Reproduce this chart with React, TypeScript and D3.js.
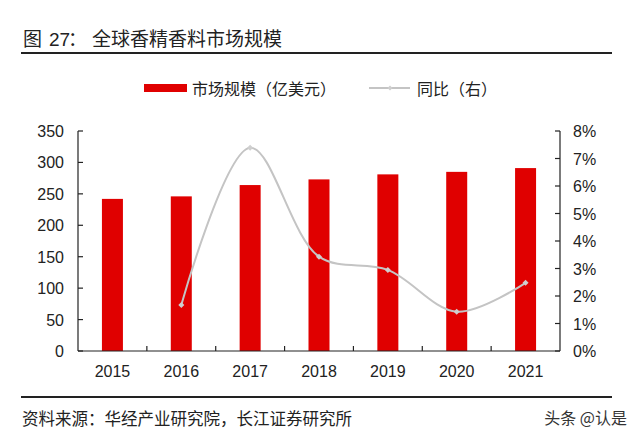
import React from "react";
import * as d3 from "d3";

const years = ["2015", "2016", "2017", "2018", "2019", "2020", "2021"];
const marketSize = [242, 246, 264, 273, 281, 285, 291];
const yoyYears = ["2016", "2017", "2018", "2019", "2020", "2021"];
const yoy = [0.0167, 0.0739, 0.0343, 0.0295, 0.0143, 0.0248];
const leftTicks = [0, 50, 100, 150, 200, 250, 300, 350];
const rightTicks = [0, 0.01, 0.02, 0.03, 0.04, 0.05, 0.06, 0.07, 0.08];

const FONT = "'Liberation Sans', Arial, 'Noto Sans CJK SC', sans-serif";
const CJK = "'Noto Sans CJK SC', 'Liberation Sans', sans-serif";

export default function App() {
  const W = 640, H = 438;
  const left = 78, right = 560, top = 131, bottom = 351;
  const x = d3.scaleBand().domain(years).range([left, right]).paddingInner(0).paddingOuter(0);
  const yL = d3.scaleLinear().domain([0, 350]).range([bottom, top]);
  const yR = d3.scaleLinear().domain([0, 0.08]).range([bottom, top]);
  const barW = 21;
  const cx = (c: string) => (x(c) as number) + x.bandwidth() / 2;
  const pts: [number, number][] = yoyYears.map((c, i) => [cx(c), yR(yoy[i])]);
  const line = d3.line().curve(d3.curveCatmullRom.alpha(0.5))(pts) as string;
  const diamond = (px: number, py: number, r: number) =>
    `M${px},${py - r}L${px + r},${py}L${px},${py + r}L${px - r},${py}Z`;
  const fmtPct = d3.format(".0%");

  return (
    <svg width={W} height={H} style={{ position: "absolute", left: 0, top: 0, background: "#fff" }}>
      <rect width={W} height={H} fill="#fff" />
      <text x={23} y={46} fontFamily={CJK} fontSize={19} fill="#222">
        <tspan>图</tspan>
        <tspan x={49} fontFamily={FONT}>27</tspan>
        <tspan x={68}>：</tspan>
        <tspan x={92}>全球香精香料市场规模</tspan>
      </text>
      <line x1={21} x2={612} y1={53} y2={53} stroke="#222" strokeWidth={2.2} />

      {/* legend */}
      <rect x={144} y={84} width={43} height={8} fill="#e00000" />
      <text x={192} y={95} fontFamily={CJK} fontSize={16} fill="#222">市场规模（亿美元）</text>
      <line x1={369} x2={410} y1={88} y2={88} stroke="#c4c4c4" strokeWidth={2} />
      <path d={diamond(390, 88, 2.5)} fill="#cfcfcf" />
      <text x={417} y={95} fontFamily={CJK} fontSize={16} fill="#222">同比（右）</text>

      {/* bars */}
      {years.map((c, i) => (
        <rect key={c} x={cx(c) - barW / 2} y={yL(marketSize[i])} width={barW}
          height={bottom - yL(marketSize[i])} fill="#e00000" />
      ))}

      {/* axes */}
      <line x1={left} x2={left} y1={top} y2={bottom} stroke="#222" strokeWidth={1.2} />
      <line x1={right} x2={right} y1={top} y2={bottom} stroke="#222" strokeWidth={1.2} />
      <line x1={left} x2={right} y1={bottom} y2={bottom} stroke="#222" strokeWidth={1.2} />
      {leftTicks.map((t) => (
        <g key={"l" + t}>
          <line x1={left} x2={left + 5} y1={yL(t)} y2={yL(t)} stroke="#222" strokeWidth={1.2} />
          <text x={64} y={yL(t) + 6} textAnchor="end" fontFamily={FONT} fontSize={16} fill="#222">{t}</text>
        </g>
      ))}
      {rightTicks.map((t) => (
        <g key={"r" + t}>
          <line x1={right - 5} x2={right} y1={yR(t)} y2={yR(t)} stroke="#222" strokeWidth={1.2} />
          <text x={573} y={yR(t) + 6} textAnchor="start" fontFamily={FONT} fontSize={16} fill="#222">{fmtPct(t)}</text>
        </g>
      ))}
      {years.slice(1).map((c) => (
        <line key={"t" + c} x1={x(c) as number} x2={x(c) as number} y1={bottom - 5} y2={bottom} stroke="#222" strokeWidth={1.2} />
      ))}
      {years.map((c) => (
        <text key={"x" + c} x={cx(c)} y={377} textAnchor="middle" fontFamily={FONT} fontSize={16} fill="#222">{c}</text>
      ))}

      {/* line */}
      <path d={line} fill="none" stroke="#c4c4c4" strokeWidth={2} />
      {pts.map(([px, py], i) => (
        <path key={"m" + i} d={diamond(px, py, 3)} fill="#cfcfcf" />
      ))}

      <line x1={21} x2={612} y1={397} y2={397} stroke="#222" strokeWidth={2.2} />
      <text x={22} y={425} fontFamily={CJK} fontSize={16.5} fill="#222">资料来源：华经产业研究院，长江证券研究所</text>
      <text x={627} y={424} textAnchor="end" fontFamily={CJK} fontSize={16} fill="#333">头条 @认是</text>
    </svg>
  );
}
